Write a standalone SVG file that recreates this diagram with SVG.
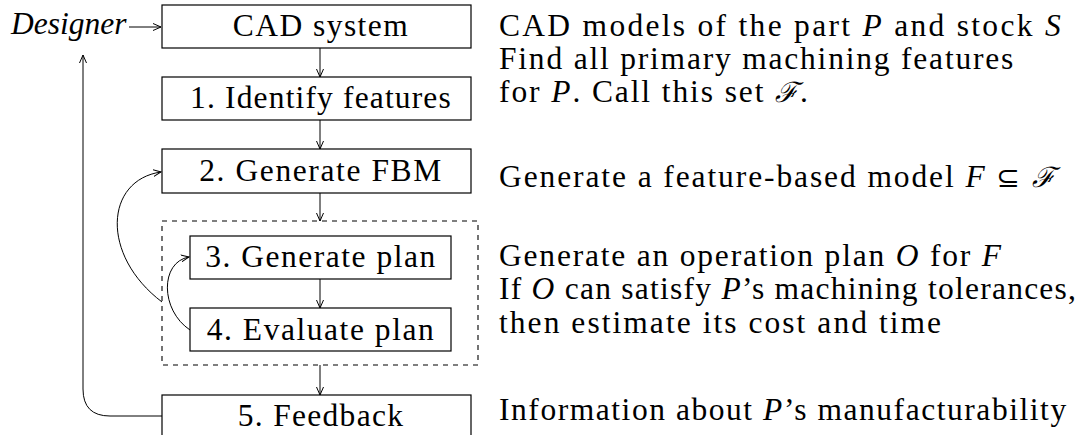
<svg xmlns="http://www.w3.org/2000/svg" width="1081" height="435" viewBox="0 0 1081 435">
<defs>
<style>
.box{fill:#fff;stroke:#000;stroke-width:1.2}
.dash{fill:none;stroke:#000;stroke-width:1.1;stroke-dasharray:5 5}
.ln{fill:none;stroke:#000;stroke-width:1}
.t{font-family:"Liberation Serif",serif;font-size:31.5px;fill:#000}
.c{text-anchor:middle}
.i{font-style:italic}
.cal{font-family:"DejaVu Serif",serif;font-style:italic;font-size:28px}
.sym{font-family:"DejaVu Sans",sans-serif;font-size:28px}
</style>
<marker id="ah" markerWidth="10" markerHeight="8" refX="8" refY="4" orient="auto" markerUnits="userSpaceOnUse">
<path d="M0,0.5 L8,4 L0,7.5" fill="none" stroke="#000" stroke-width="1"/>
</marker>
</defs>
<rect width="1081" height="435" fill="#fff"/>

<g id="connectors">
<line class="ln" x1="129" y1="27" x2="161" y2="27" marker-end="url(#ah)"/>
<line class="ln" x1="320" y1="48" x2="320" y2="77" marker-end="url(#ah)"/>
<line class="ln" x1="320" y1="120" x2="320" y2="149" marker-end="url(#ah)"/>
<line class="ln" x1="320" y1="193" x2="320" y2="221" marker-end="url(#ah)"/>
<line class="ln" x1="320" y1="279" x2="320" y2="308" marker-end="url(#ah)"/>
<line class="ln" x1="320" y1="365" x2="320" y2="395" marker-end="url(#ah)"/>
<path class="ln" d="M162,302 C100,255 105,180 161,172" marker-end="url(#ah)"/>
<path class="ln" d="M190,330 C160,310 160,262 189,257" marker-end="url(#ah)"/>
<path class="ln" d="M162,416 H110 Q83,416 83,389 V55" marker-end="url(#ah)"/>
</g>

<g id="designer">
<text class="t i" x="11" y="34">Designer</text>
</g>

<g id="cad-system">
<rect class="box" x="162" y="5" width="309" height="43"/>
<text class="t c" x="321" y="36" letter-spacing="1.45">CAD system</text>
</g>

<g id="identify-features">
<rect class="box" x="162" y="77" width="309" height="43"/>
<text class="t c" x="321" y="108" letter-spacing="1.15">1. Identify features</text>
</g>

<g id="generate-fbm">
<rect class="box" x="162" y="149" width="309" height="44"/>
<text class="t c" x="321" y="181" letter-spacing="1.6">2. Generate FBM</text>
</g>

<g id="plan-group">
<rect class="dash" x="162" y="221" width="316" height="144"/>
</g>

<g id="generate-plan">
<rect class="box" x="190" y="236" width="261" height="43"/>
<text class="t c" x="321" y="267" letter-spacing="1.5">3. Generate plan</text>
</g>

<g id="evaluate-plan">
<rect class="box" x="190" y="308" width="261" height="43"/>
<text class="t c" x="321" y="340" letter-spacing="1.55">4. Evaluate plan</text>
</g>

<g id="feedback">
<rect class="box" x="162" y="395" width="309" height="50"/>
<text class="t c" x="321" y="426" letter-spacing="1.3">5. Feedback</text>
</g>

<g id="descriptions">
<text class="t" x="499" y="36" letter-spacing="2.3">CAD models of the part <tspan class="i">P</tspan> and stock <tspan class="i">S</tspan></text>
<text class="t" x="499" y="69" letter-spacing="1.8">Find all primary machining features</text>
<text class="t" x="499" y="102" letter-spacing="1.9">for <tspan class="i">P</tspan>. Call this set <tspan class="cal">ℱ</tspan>.</text>
<text class="t" x="499" y="187" letter-spacing="1.9">Generate a feature-based model <tspan class="i">F</tspan> <tspan class="sym">⊆</tspan> <tspan class="cal">ℱ</tspan></text>
<text class="t" x="499" y="266" letter-spacing="1.8">Generate an operation plan <tspan class="i">O</tspan> for <tspan class="i">F</tspan></text>
<text class="t" x="499" y="299" letter-spacing="1.25">If <tspan class="i">O</tspan> can satisfy <tspan class="i">P</tspan>’s machining tolerances,</text>
<text class="t" x="499" y="333" letter-spacing="2.05">then estimate its cost and time</text>
<text class="t" x="499" y="420" letter-spacing="1.55">Information about <tspan class="i">P</tspan>’s manufacturability</text>
</g>
</svg>
